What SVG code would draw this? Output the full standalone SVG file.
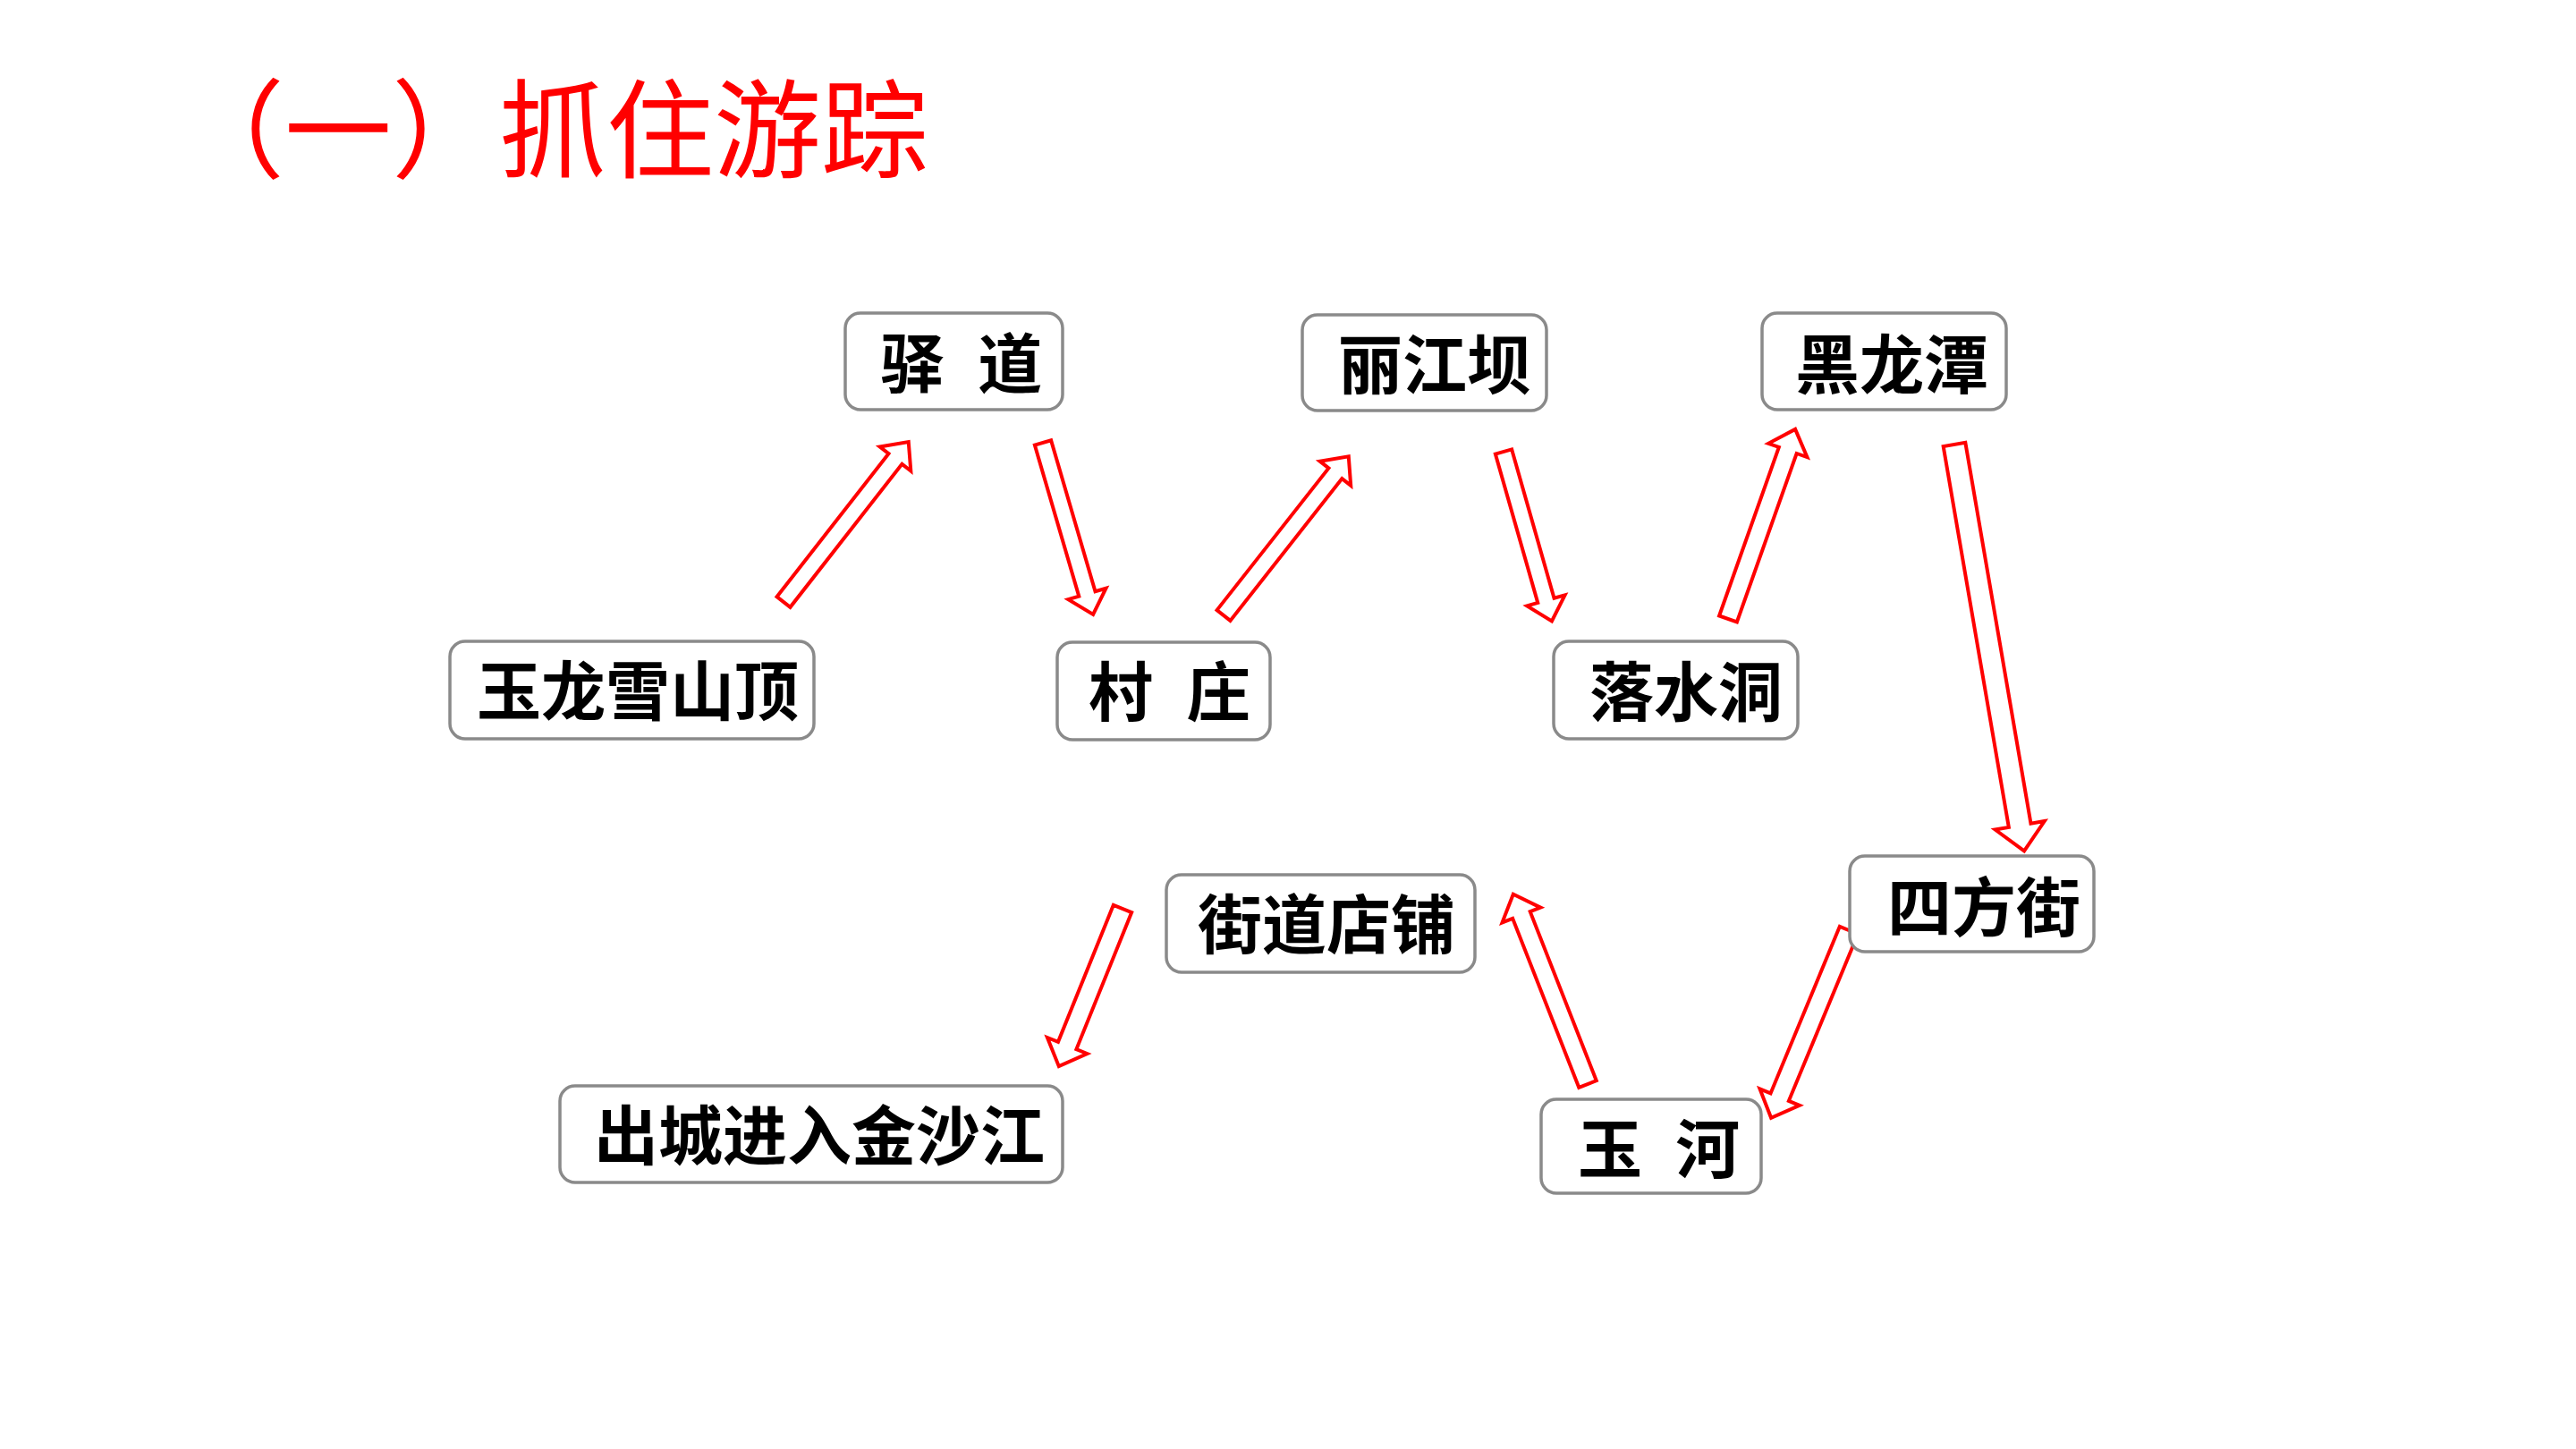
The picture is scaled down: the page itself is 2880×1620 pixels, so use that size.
<svg xmlns="http://www.w3.org/2000/svg" width="2880" height="1620" viewBox="0 0 2880 1620">
<style>
.box{fill:#fff;stroke:#8a8a8a;stroke-width:3.5}
.lbl{font-family:"Noto Sans CJK SC","Noto Sans",sans-serif;font-weight:bold;font-size:72px;fill:#000}
.sp{word-spacing:21px}
.arr{fill:#fff;stroke:#ff0000;stroke-width:4;stroke-linejoin:miter}
.title{font-family:"Noto Sans CJK SC","Noto Sans",sans-serif;font-weight:400;font-size:120px;fill:#ff0000}
</style>
<rect width="2880" height="1620" fill="#fff"/>
<text class="title" x="198" y="190">（一）抓住游踪</text>

<g id="connectors">
<path class="arr" transform="translate(876,673) rotate(-52)" d="M0,-9.5 L203,-9.5 L203,-22 L227,0 L203,22 L203,9.5 L0,9.5 Z"/>
<path class="arr" transform="translate(1166,495) rotate(73.7)" d="M0,-9.5 L176,-9.5 L176,-22 L200,0 L176,22 L176,9.5 L0,9.5 Z"/>
<path class="arr" transform="translate(1368,688) rotate(-51.8)" d="M0,-9.5 L202,-9.5 L202,-22 L226,0 L202,22 L202,9.5 L0,9.5 Z"/>
<path class="arr" transform="translate(1681,505) rotate(74.1)" d="M0,-9.5 L173,-9.5 L173,-22 L197,0 L173,22 L173,9.5 L0,9.5 Z"/>
<path class="arr" transform="translate(1932,692) rotate(-70.5)" d="M0,-10.5 L200,-10.5 L200,-23 L225,0 L200,23 L200,10.5 L0,10.5 Z"/>
<path class="arr" transform="translate(2185,497) rotate(80.25)" d="M0,-12.5 L432,-12.5 L432,-28 L461,0 L432,28 L432,12.5 L0,12.5 Z"/>
<path class="arr" transform="translate(1775,1212) rotate(-111.4)" d="M0,-10.5 L203,-10.5 L203,-23 L228,0 L203,23 L203,10.5 L0,10.5 Z"/>
<path class="arr" transform="translate(2067,1040) rotate(112.5)" d="M0,-11 L202,-11 L202,-24 L227,0 L202,24 L202,11 L0,11 Z"/>
<path class="arr" transform="translate(1255,1016) rotate(112)" d="M0,-11 L165,-11 L165,-24 L190,0 L165,24 L165,11 L0,11 Z"/>
</g>

<g id="n-yulongxueshanding">
<rect class="box" x="503" y="717" width="407" height="109" rx="17"/>
<text class="lbl" x="533" y="799">玉龙雪山顶</text>
</g>
<g id="n-yidao">
<rect class="box" x="945" y="350" width="243" height="108" rx="17"/>
<text class="lbl sp" x="984" y="433">驿 道</text>
</g>
<g id="n-cunzhuang">
<rect class="box" x="1182" y="718" width="238" height="109" rx="17"/>
<text class="lbl sp" x="1217" y="800">村 庄</text>
</g>
<g id="n-lijiangba">
<rect class="box" x="1456" y="352" width="273" height="107" rx="17"/>
<text class="lbl" x="1496" y="434">丽江坝</text>
</g>
<g id="n-heilongtan">
<rect class="box" x="1970" y="350" width="273" height="108" rx="17"/>
<text class="lbl" x="2007" y="434">黑龙潭</text>
</g>
<g id="n-luoshuidong">
<rect class="box" x="1737" y="717" width="273" height="109" rx="17"/>
<text class="lbl" x="1777" y="800">落水洞</text>
</g>
<g id="n-sifangjie">
<rect class="box" x="2068" y="957" width="273" height="107" rx="17"/>
<text class="lbl" x="2110" y="1041">四方街</text>
</g>
<g id="n-yuhe">
<rect class="box" x="1723" y="1229" width="246" height="105" rx="17"/>
<text class="lbl sp" x="1764" y="1311">玉 河</text>
</g>
<g id="n-jiedaodianpu">
<rect class="box" x="1304" y="978" width="345" height="109" rx="17"/>
<text class="lbl" x="1339" y="1060">街道店铺</text>
</g>
<g id="n-chucheng">
<rect class="box" x="626" y="1214" width="562" height="108" rx="17"/>
<text class="lbl" x="664" y="1296">出城进入金沙江</text>
</g>
</svg>
